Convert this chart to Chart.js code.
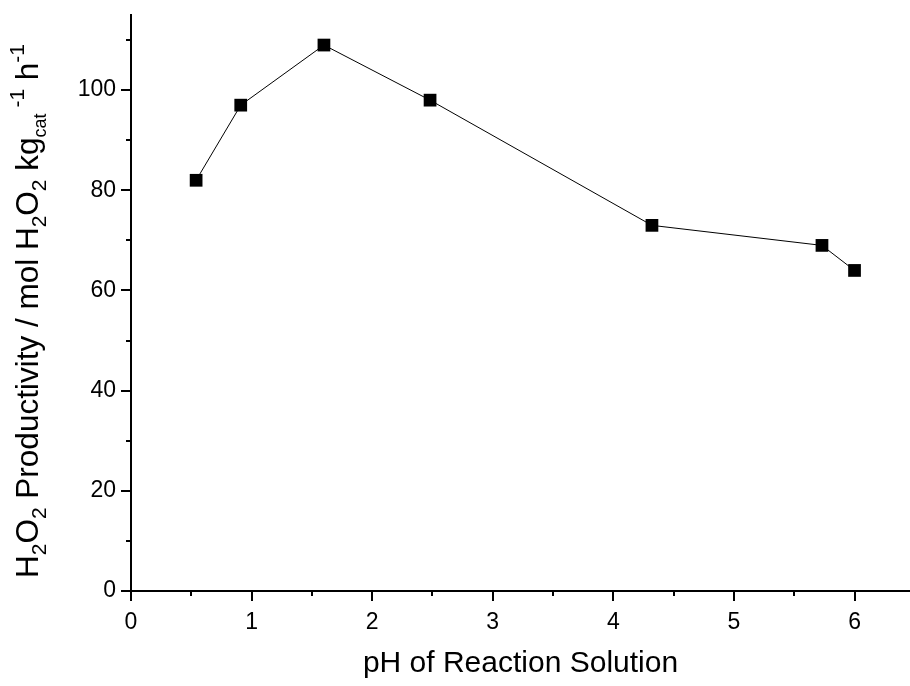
<!DOCTYPE html>
<html>
<head>
<meta charset="utf-8">
<script src="https://cdn.jsdelivr.net/npm/chart.js@4.4.0/dist/chart.umd.min.js"></script>
<style>
  html, body { margin: 0; padding: 0; background: #fff; }
  #wrap { width: 910px; height: 686px; }
</style>
</head>
<body>
<div id="wrap"><canvas id="phChart" width="910" height="686"></canvas></div>
<script>
// pH vs H2O2 productivity
const phValues = [0.54, 0.91, 1.6, 2.48, 4.32, 5.73, 6.0];
const productivity = [82, 97, 109, 98, 73, 69, 64];
const xTickLabels = ['0', '1', '2', '3', '4', '5', '6'];
const yTickLabels = ['0', '20', '40', '60', '80', '100'];

const FONT = '"Liberation Sans", Arial, sans-serif';
const near = (a, b) => Math.abs(a - b) < 1e-6;
const isLabel = (list, v) => list.some(s => near(Number(s), v));

// outward ticks, major + minor, drawn off the library's scales
const tickPlugin = {
    id: 'outTicks',
    afterDraw(chart) {
        const ctx = chart.ctx;
        const xs = chart.scales.x, ys = chart.scales.y;
        ctx.save();
        ctx.strokeStyle = '#000';
        ctx.lineWidth = 2;
        ctx.beginPath();
        xs.ticks.forEach(t => {
            const px = Math.round(xs.getPixelForValue(t.value));
            ctx.moveTo(px, ys.bottom);
            ctx.lineTo(px, ys.bottom + (isLabel(xTickLabels, t.value) ? 10 : 5));
        });
        ys.ticks.forEach(t => {
            const py = Math.round(ys.getPixelForValue(t.value));
            ctx.moveTo(xs.left, py);
            ctx.lineTo(xs.left - (isLabel(yTickLabels, t.value) ? 10 : 5), py);
        });
        ctx.stroke();
        ctx.restore();
    }
};

// y title with sub/superscripts
const yTitlePlugin = {
    id: 'yTitle',
    afterDraw(chart) {
        const ctx = chart.ctx;
        const runs = [
            ['H', 0], ['2', 1], ['O', 0], ['2', 1],
            [' Productivity / mol H', 0], ['2', 1], ['O', 0], ['2', 1],
            [' kg', 0], ['cat', 2], [' -1', 3], [' h', 0], ['-1', 3]
        ];
        const big = '31.5px ' + FONT, small = '21px ' + FONT, tiny = '18px ' + FONT;
        const fontOf = k => k === 0 ? big : (k === 2 ? tiny : small);
        const shift = k => k === 1 || k === 2 ? 8 : (k === 3 ? -14 : 0);
        ctx.save();
        let total = 0;
        runs.forEach(r => { ctx.font = fontOf(r[1]); total += ctx.measureText(r[0]).width; });
        ctx.translate(38, 311);
        ctx.rotate(-Math.PI / 2);
        ctx.fillStyle = '#000';
        ctx.textBaseline = 'alphabetic';
        let x = -total / 2;
        runs.forEach(r => {
            ctx.font = fontOf(r[1]);
            ctx.fillText(r[0], x, shift(r[1]));
            x += ctx.measureText(r[0]).width;
        });
        ctx.restore();
    }
};

const ctx = document.getElementById('phChart').getContext('2d');
new Chart(ctx, {
    type: 'scatter',
    data: {
        datasets: [{
            data: phValues.map((v, i) => ({ x: v, y: productivity[i] })),
            showLine: true,
            borderColor: '#000',
            borderWidth: 1,
            backgroundColor: '#000',
            pointStyle: 'rect',
            pointRadius: 9,
            pointHoverRadius: 9,
            pointBorderWidth: 0
        }]
    },
    options: {
        responsive: false,
        animation: false,
        devicePixelRatio: 1,
        layout: { autoPadding: false, padding: { top: 15, right: 0, bottom: 0, left: 0 } },
        plugins: {
            legend: { display: false },
            tooltip: { enabled: false }
        },
        scales: {
            x: {
                type: 'linear',
                min: 0,
                max: 6.46,
                afterFit: s => { s.height = 95; s.paddingLeft = 0; s.paddingRight = 0; },
                grid: { display: false },
                border: { display: true, color: '#000', width: 2 },
                ticks: {
                    stepSize: 0.5,
                    includeBounds: false,
                    autoSkip: false,
                    maxRotation: 0,
                    padding: 10,
                    color: '#000',
                    font: { family: FONT, size: 23 },
                    callback: v => isLabel(xTickLabels, v) ? String(Math.round(v)) : ''
                },
                title: {
                    display: true,
                    text: 'pH of Reaction Solution',
                    color: '#000',
                    font: { family: FONT, size: 30 },
                    padding: { top: 12 }
                }
            },
            y: {
                min: 0,
                max: 115,
                afterFit: s => { s.width = 131; s.paddingTop = 0; s.paddingBottom = 0; },
                grid: { display: false },
                border: { display: true, color: '#000', width: 2 },
                ticks: {
                    stepSize: 10,
                    includeBounds: false,
                    autoSkip: false,
                    padding: 7,
                    color: '#000',
                    font: { family: FONT, size: 23 },
                    callback: v => isLabel(yTickLabels, v) ? String(Math.round(v)) : ''
                }
            }
        }
    },
    plugins: [tickPlugin, yTitlePlugin]
});
</script>
</body>
</html>
